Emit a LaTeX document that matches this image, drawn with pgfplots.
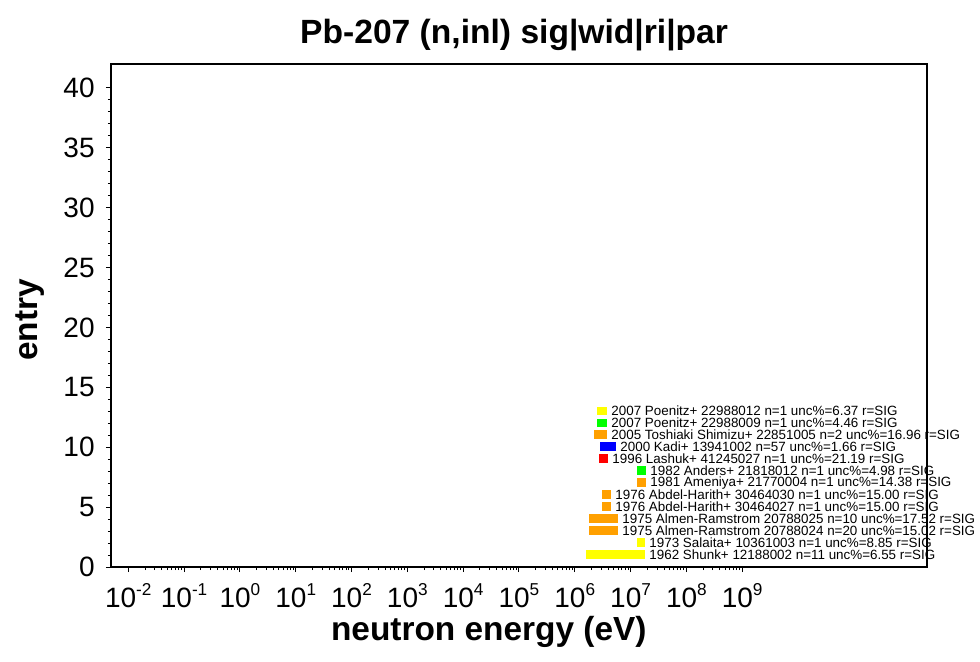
\documentclass[border=0pt]{standalone}
\usepackage{pgfplots}
\pgfplotsset{compat=1.18}
\usepackage{fontspec}
\setmainfont{Liberation Sans}

\definecolor{cyel}{RGB}{255,255,0}
\definecolor{cgrn}{RGB}{0,255,0}
\definecolor{cora}{RGB}{255,160,0}
\definecolor{cblu}{RGB}{0,0,255}
\definecolor{cred}{RGB}{255,0,0}

\tikzset{lab/.style={anchor=west, inner sep=0pt, xshift=2pt, font=\fontsize{6.7}{6.7}\selectfont}}

% tick label 10^n in the text font
\newcommand\tl[1]{10\raisebox{5.6pt}{\fontsize{8.6}{8.6}\selectfont #1}}

% minor ticks 2..9 in every decade from 1e-2 to 1e9
\def\minorlist{2e-2}
\foreach \e in {-2,...,8}{\foreach \m in {2,...,9}{\xdef\minorlist{\minorlist,\m e\e}}}

% one entry: colour, emin, emax, entry number, label
\newcommand\Entry[5]{%
  \pgfmathsetmacro\lo{#4-0.33}\pgfmathsetmacro\hi{#4+0.40}\pgfmathsetmacro\md{#4+0.04}%
  \edef\tmp{\noexpand\addplot[fill=#1,draw=none] coordinates {(#2,\lo) (#3,\lo) (#3,\hi) (#2,\hi)};
    \noexpand\node[lab] at (axis cs:#3,\md) {\unexpanded{#5}};}\tmp}

\begin{document}
\begin{tikzpicture}
\path[use as bounding box] (-55.5pt,-47pt) rectangle (434.5pt,283.5pt);
\begin{axis}[
  scale only axis, width=408pt, height=251.5pt,
  xmode=log, xmin=4.9e-3, xmax=2.05e12,
  ymin=0, ymax=42,
  xtick={1e-2,1e-1,1e0,1e1,1e2,1e3,1e4,1e5,1e6,1e7,1e8,1e9},
  xticklabels={\tl{-2},\tl{-1},\tl{0},\tl{1},\tl{2},\tl{3},\tl{4},\tl{5},\tl{6},\tl{7},\tl{8},\tl{9}},
  minor xtick/.expanded={\minorlist},
  ytick={0,5,...,40}, minor y tick num=4,
  tick align=outside, tick pos=left,
  major tick length=2.5pt, minor tick length=1.5pt,
  axis line style={line width=0.7pt}, every tick/.style={black, line width=0.5pt},
  /pgf/number format/assume math mode=true,
  ticklabel style={font=\fontsize{14}{14}\selectfont},
  xticklabel style={anchor=base, inner sep=0pt, yshift=-17.5pt},
  yticklabel style={inner sep=0pt, xshift=-5.5pt},
  xlabel={\bfseries neutron energy (eV)},
  xlabel style={font=\fontsize{16.7}{16.7}\selectfont, at={(rel axis cs:0.463,-0.13)}, anchor=center},
  ylabel={\bfseries entry},
  ylabel style={font=\fontsize{16.7}{16.7}\selectfont, at={(rel axis cs:-0.099,0.491)}, anchor=center, rotate=0},
  clip=false,
]
\Entry{cyel}{1.596e6}{1.820e7}{1}{1962 Shunk+ 12188002 n=11 unc\%=6.55 r=SIG}
\Entry{cyel}{1.309e7}{1.820e7}{2}{1973 Salaita+ 10361003 n=1 unc\%=8.85 r=SIG}
\Entry{cora}{1.803e6}{5.970e6}{3}{1975 Almen-Ramstrom 20788024 n=20 unc\%=15.02 r=SIG}
\Entry{cora}{1.803e6}{5.970e6}{4}{1975 Almen-Ramstrom 20788025 n=10 unc\%=17.52 r=SIG}
\Entry{cora}{3.083e6}{4.467e6}{5}{1976 Abdel-Harith+ 30464027 n=1 unc\%=15.00 r=SIG}
\Entry{cora}{3.083e6}{4.467e6}{6}{1976 Abdel-Harith+ 30464030 n=1 unc\%=15.00 r=SIG}
\Entry{cora}{1.309e7}{1.897e7}{7}{1981 Ameniya+ 21770004 n=1 unc\%=14.38 r=SIG}
\Entry{cgrn}{1.309e7}{1.897e7}{8}{1982 Anders+ 21818012 n=1 unc\%=4.98 r=SIG}
\Entry{cred}{2.723e6}{3.954e6}{9}{1996 Lashuk+ 41245027 n=1 unc\%=21.19 r=SIG}
\Entry{cblu}{2.838e6}{5.495e6}{10}{2000 Kadi+ 13941002 n=57 unc\%=1.66 r=SIG}
\Entry{cora}{2.218e6}{3.793e6}{11}{2005 Toshiaki Shimizu+ 22851005 n=2 unc\%=16.96 r=SIG}
\Entry{cgrn}{2.512e6}{3.793e6}{12}{2007 Poenitz+ 22988009 n=1 unc\%=4.46 r=SIG}
\Entry{cyel}{2.512e6}{3.793e6}{13}{2007 Poenitz+ 22988012 n=1 unc\%=6.37 r=SIG}
% title
\node[font=\fontsize{16.8}{16.8}\selectfont\bfseries, anchor=base] at (rel axis cs:0.494,1.04) {Pb-207 (n,inl) sig|wid|ri|par};
\end{axis}
\end{tikzpicture}
\end{document}
